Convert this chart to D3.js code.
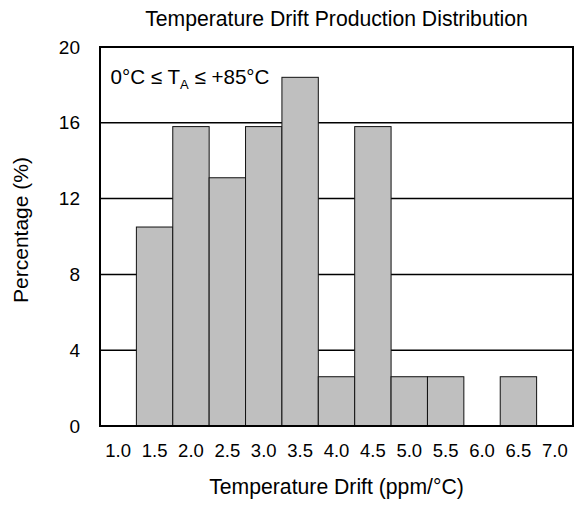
<!DOCTYPE html>
<html>
<head>
<meta charset="utf-8">
<script src="https://cdn.jsdelivr.net/npm/d3@7"></script>
<style>
  body { margin: 0; background: #fff; }
  text { font-family: "Liberation Sans", Arial, sans-serif; fill: #000; }
</style>
</head>
<body>
<div id="chart"></div>
<script>
"use strict"

// bins of temperature drift (ppm/°C) and share of units in each bin
var bins = ["1.0", "1.5", "2.0", "2.5", "3.0", "3.5", "4.0", "4.5", "5.0", "5.5", "6.0", "6.5", "7.0"];
var percent = [0, 10.5, 15.8, 13.1, 15.8, 18.4, 2.6, 15.8, 2.6, 2.6, 0, 2.6, 0];
var yTicks = [0, 4, 8, 12, 16, 20];

var W = 580, H = 507;
var margin = {top: 47, right: 7, bottom: 81, left: 100},
  width = W - margin.left - margin.right,
  height = H - margin.top - margin.bottom;

let svg = d3.select("#chart")
            .append("svg")
                .attr("width", W)
                .attr("height", H);

let g = svg.append("g")
    .attr("transform", "translate(" + margin.left + "," + margin.top + ")");

const x = d3.scaleBand().domain(bins).range([0, width]).padding(0);
const y = d3.scaleLinear().domain([0, 20]).range([height, 0]);

// grid lines
g.append("g")
  .selectAll("line")
  .data(yTicks.filter(t => t > 0 && t < 20))
  .join("line")
    .attr("x1", 0)
    .attr("x2", width)
    .attr("y1", d => y(d))
    .attr("y2", d => y(d))
    .attr("stroke", "#000")
    .attr("stroke-width", 1.5);

// bars
g.append("g")
  .selectAll("rect")
  .data(bins.map((b, i) => ({bin: b, v: percent[i]})).filter(d => d.v > 0))
  .join("rect")
    .attr("x", d => x(d.bin))
    .attr("y", d => y(d.v))
    .attr("width", x.bandwidth())
    .attr("height", d => y(0) - y(d.v))
    .attr("fill", "#bfbfbf")
    .attr("stroke", "#111")
    .attr("stroke-width", 1);

// frame
g.append("rect")
  .attr("x", 0).attr("y", 0)
  .attr("width", width).attr("height", height)
  .attr("fill", "none")
  .attr("stroke", "#000")
  .attr("stroke-width", 2);

// axes
const xAxis = g.append("g")
  .attr("transform", "translate(0," + height + ")")
  .call(d3.axisBottom(x).tickSize(0).tickPadding(18));
xAxis.select(".domain").remove();
xAxis.selectAll("text").style("font-size", "18.5px").style("font-family", "Liberation Sans, Arial, sans-serif");

const yAxis = g.append("g")
  .call(d3.axisLeft(y).tickValues(yTicks).tickSize(0).tickPadding(20));
yAxis.select(".domain").remove();
yAxis.selectAll("text").style("font-size", "19px").style("font-family", "Liberation Sans, Arial, sans-serif");

// title and labels
svg.append("text")
  .attr("x", margin.left + width / 2)
  .attr("y", 26)
  .attr("text-anchor", "middle")
  .style("font-size", "21.2px")
  .text("Temperature Drift Production Distribution");

svg.append("text")
  .attr("x", margin.left + width / 2)
  .attr("y", 494)
  .attr("text-anchor", "middle")
  .style("font-size", "21.2px")
  .text("Temperature Drift (ppm/°C)");

svg.append("text")
  .attr("transform", "translate(28,230) rotate(-90)")
  .attr("text-anchor", "middle")
  .style("font-size", "21px")
  .text("Percentage (%)");

// condition note
const note = g.append("text")
  .attr("x", 10.5)
  .attr("y", 37)
  .style("font-size", "20.6px");
note.append("tspan").text("0°C ≤ T");
note.append("tspan").attr("dy", 5).style("font-size", "13px").text("A");
note.append("tspan").attr("dy", -5).text(" ≤ +85°C");
</script>
</body>
</html>
